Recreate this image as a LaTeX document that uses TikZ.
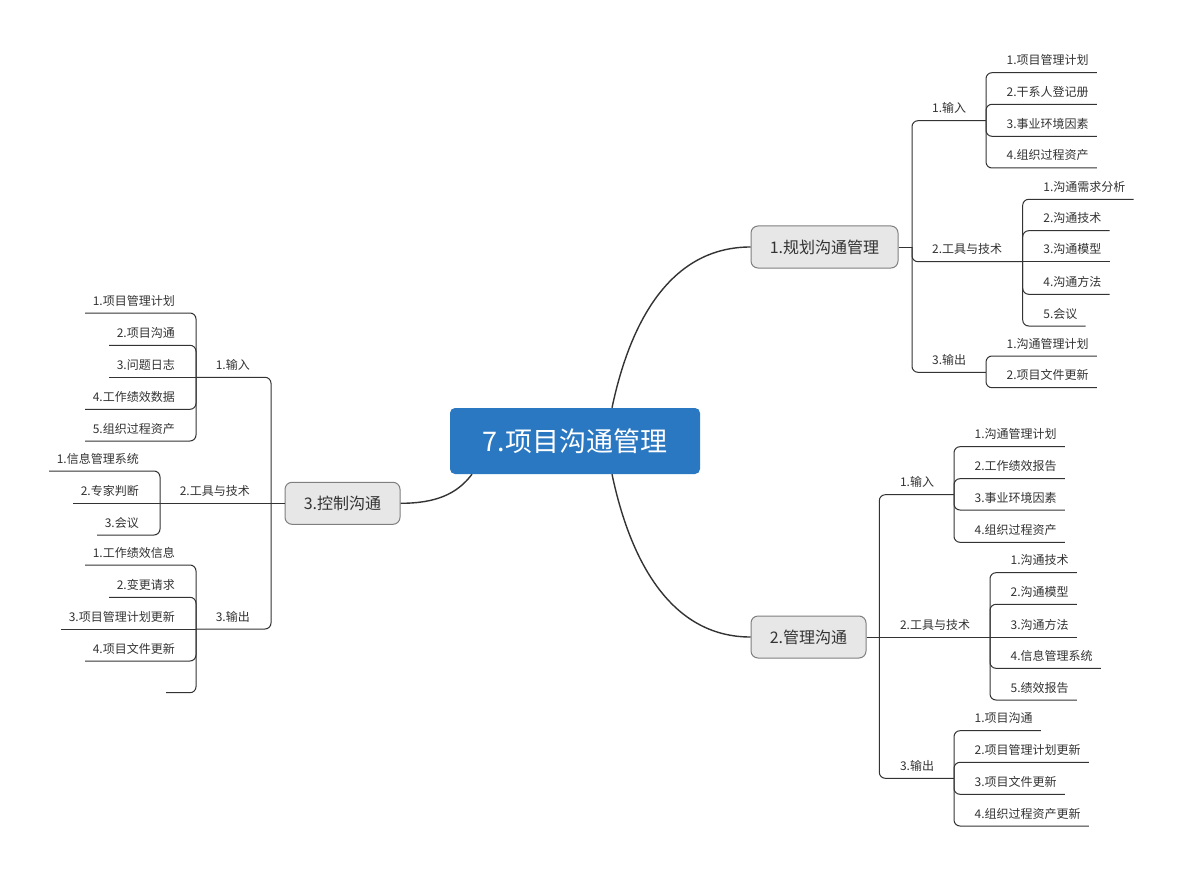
\documentclass[tikz,border=0pt]{standalone}
\usepackage{fontspec}
\newfontfamily\cjk{Noto Sans CJK SC}
\usetikzlibrary{calc}
\definecolor{rootblue}{HTML}{2B78C2}
\definecolor{boxfill}{HTML}{E7E7E7}
\definecolor{boxdraw}{HTML}{7F7F7F}
\definecolor{txt}{HTML}{333333}
\definecolor{ln}{HTML}{333333}
\tikzset{
  rootnode/.style={fill=rootblue, rounded corners=5pt, text=white, inner sep=0pt,
    minimum width=250pt, minimum height=66pt, font=\cjk\fontsize{27}{30}\selectfont},
  mainnode/.style={fill=boxfill, draw=boxdraw, line width=1pt, rounded corners=7pt, text=txt,
    inner sep=0pt, minimum height=42pt, font=\cjk\fontsize{16}{18}\selectfont},
  topic/.style={inner sep=0pt, text=txt, font=\cjk\fontsize{12}{14}\selectfont},
  conn/.style={draw=ln, line width=1pt, rounded corners=6pt},
  curve/.style={draw=ln, line width=1.4pt},
}
% right-side leaf: name, subtrunk x, line y, text
\newcommand\lfR[4]{%
  \node[topic, anchor=base west] (#1) at (#2+20.5,#3-8) {#4};
  \coordinate (#1-e) at ($(#1.base east)+(8,8)$);}
% left-side leaf
\newcommand\lfL[4]{%
  \node[topic, anchor=base east] (#1) at (#2-21,#3-8) {#4};
  \coordinate (#1-e) at ($(#1.base west)+(-7.5,8)$);}
\begin{document}
\begin{tikzpicture}[x=1pt,y=-1pt]
\useasboundingbox (0,0) rectangle (1182,877);
\fill[white] (0,0) rectangle (1182,877);

% central and main nodes
\node[rootnode] (root) at (575,441) {7.项目沟通管理};
\node[mainnode, minimum width=147pt] (b1) at (824.5,247) {1.规划沟通管理};
\node[mainnode, minimum width=115pt] (b2) at (808.5,637) {2.管理沟通};
\node[mainnode, minimum width=115pt] (b3) at (342.5,503.3) {3.控制沟通};

\draw[curve] ([xshift=37pt]root.north) .. controls +(20,-95) and +(-75,0) .. (b1.west);
\draw[curve] ([xshift=37pt]root.south) .. controls +(20,95) and +(-75,0) .. (b2.west);
\draw[curve] ([xshift=-103pt]root.south) .. controls +(-15,20) and +(35,0) .. (b3.east);

% ---------------- box 1 ----------------
\coordinate (t1) at (912,247);
\draw[conn] (b1.east) -- (t1);
% 1.输入
\node[topic, anchor=base west] (p11) at (932,112.7) {1.输入};
\coordinate (s11) at (986,120.7);
\draw[conn] (t1) |- (s11);
\lfR{a1}{986}{72.7}{1.项目管理计划}
\lfR{a2}{986}{104.3}{2.干系人登记册}
\lfR{a3}{986}{136.3}{3.事业环境因素}
\lfR{a4}{986}{168}{4.组织过程资产}
\foreach \n in {a1,a2,a3,a4} \draw[conn] (s11) |- (\n-e);
% 2.工具与技术
\node[topic, anchor=base west] (p12) at (932,253.7) {2.工具与技术};
\coordinate (s12) at (1022.7,261.7);
\draw[conn] (t1) |- (s12);
\lfR{b1a}{1022.7}{199.3}{1.沟通需求分析}
\lfR{b1b}{1022.7}{230.7}{2.沟通技术}
\lfR{b1c}{1022.7}{261.7}{3.沟通模型}
\lfR{b1d}{1022.7}{294.3}{4.沟通方法}
\lfR{b1f}{1022.7}{326}{5.会议}
\foreach \n in {b1a,b1b,b1d,b1f} \draw[conn] (s12) |- (\n-e);
\draw[conn] (s12) -- (b1c-e);
% 3.输出
\node[topic, anchor=base west] (p13) at (932,364.3) {3.输出};
\coordinate (s13) at (986,372.3);
\draw[conn] (t1) |- (s13);
\lfR{c1}{986}{356}{1.沟通管理计划}
\lfR{c2}{986}{387.7}{2.项目文件更新}
\foreach \n in {c1,c2} \draw[conn] (s13) |- (\n-e);

% ---------------- box 2 ----------------
\coordinate (t2) at (879.3,637);
\draw[conn] (b2.east) -- (t2);
% 1.输入
\node[topic, anchor=base west] (p21) at (899.8,486.7) {1.输入};
\coordinate (s21) at (954,494.7);
\draw[conn] (t2) |- (s21);
\lfR{d1}{954}{446.7}{1.沟通管理计划}
\lfR{d2}{954}{478.7}{2.工作绩效报告}
\lfR{d3}{954}{510}{3.事业环境因素}
\lfR{d4}{954}{542.3}{4.组织过程资产}
\foreach \n in {d1,d2,d3,d4} \draw[conn] (s21) |- (\n-e);
% 2.工具与技术
\node[topic, anchor=base west] (p22) at (899.8,629) {2.工具与技术};
\coordinate (s22) at (990,637);
\draw[conn] (t2) -- (s22);
\lfR{e1}{990}{572.7}{1.沟通技术}
\lfR{e2}{990}{604.3}{2.沟通模型}
\lfR{e3}{990}{637}{3.沟通方法}
\lfR{e4}{990}{668.3}{4.信息管理系统}
\lfR{e5}{990}{700}{5.绩效报告}
\foreach \n in {e1,e2,e4,e5} \draw[conn] (s22) |- (\n-e);
\draw[conn] (s22) -- (e3-e);
% 3.输出
\node[topic, anchor=base west] (p23) at (899.8,770.3) {3.输出};
\coordinate (s23) at (954,778.3);
\draw[conn] (t2) |- (s23);
\lfR{f1}{954}{730.7}{1.项目沟通}
\lfR{f2}{954}{762.3}{2.项目管理计划更新}
\lfR{f3}{954}{794.3}{3.项目文件更新}
\lfR{f4}{954}{826}{4.组织过程资产更新}
\foreach \n in {f1,f2,f3,f4} \draw[conn] (s23) |- (\n-e);

% ---------------- box 3 ----------------
\coordinate (t3) at (271,503.3);
\draw[conn] (b3.west) -- (t3);
% 1.输入
\node[topic, anchor=base east] (p31) at (250,369.3) {1.输入};
\coordinate (s31) at (196,377.3);
\draw[conn] (t3) |- (s31);
\lfL{g1}{196}{313}{1.项目管理计划}
\lfL{g2}{196}{345.3}{2.项目沟通}
\lfL{g3}{196}{377.3}{3.问题日志}
\lfL{g4}{196}{409.3}{4.工作绩效数据}
\lfL{g5}{196}{441}{5.组织过程资产}
\foreach \n in {g1,g2,g4,g5} \draw[conn] (s31) |- (\n-e);
\draw[conn] (s31) -- (g3-e);
% 2.工具与技术
\node[topic, anchor=base east] (p32) at (250,495.3) {2.工具与技术};
\coordinate (s32) at (160,503.3);
\draw[conn] (t3) -- (s32);
\lfL{h1}{160}{471}{1.信息管理系统}
\lfL{h2}{160}{503.3}{2.专家判断}
\lfL{h3}{160}{535}{3.会议}
\foreach \n in {h1,h3} \draw[conn] (s32) |- (\n-e);
\draw[conn] (s32) -- (h2-e);
% 3.输出
\node[topic, anchor=base east] (p33) at (250,621) {3.输出};
\coordinate (s33) at (196,629);
\draw[conn] (t3) |- (s33);
\lfL{k1}{196}{565}{1.工作绩效信息}
\lfL{k2}{196}{597.3}{2.变更请求}
\lfL{k3}{196}{629}{3.项目管理计划更新}
\lfL{k4}{196}{661}{4.项目文件更新}
\coordinate (k5-e) at (166,692.7);
\foreach \n in {k1,k2,k4,k5} \draw[conn] (s33) |- (\n-e);
\draw[conn] (s33) -- (k3-e);
\end{tikzpicture}
\end{document}
